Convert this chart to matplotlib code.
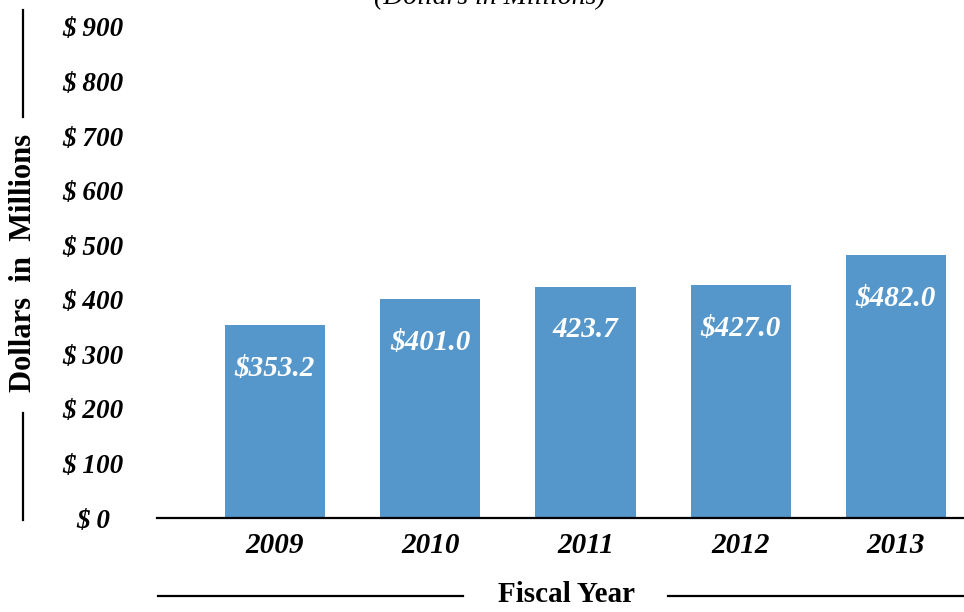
import matplotlib
matplotlib.use("Agg")
import matplotlib.pyplot as plt
from matplotlib.lines import Line2D

years = ["2009", "2010", "2011", "2012", "2013"]
values = [353.2, 401.0, 423.7, 427.0, 482.0]
value_labels = ["$353.2", "$401.0", "423.7", "$427.0", "$482.0"]
yticks = [0, 100, 200, 300, 400, 500, 600, 700, 800, 900]
ytick_labels = ["$ %d" % v for v in yticks]

W, H = 964, 612
fig = plt.figure(figsize=(W / 100, H / 100), dpi=100)
ax = fig.add_axes([157 / W, 1 - 518 / H, 1 - 157 / W, (518 - 27) / H])

SERIF = ["Liberation Serif", "DejaVu Serif"]
bar_color = "#5597CB"

x = list(range(len(years)))
ax.bar(x, values, width=0.645, color=bar_color, zorder=2)
ax.set_xlim(-0.76, 4.438)
ax.set_ylim(0, 900)

for xi, v, lab in zip(x, values, value_labels):
    ax.annotate(lab, (xi, v), xytext=(0, -31), textcoords="offset points",
                ha="center", va="center", color="white", fontsize=21,
                fontstyle="italic", fontweight="bold", family=SERIF)

for s in ["top", "right", "left"]:
    ax.spines[s].set_visible(False)
ax.spines["bottom"].set_linewidth(1.6)
ax.spines["bottom"].set_color("black")

ax.set_xticks(x)
ax.set_xticklabels(years, fontsize=21, fontstyle="italic", fontweight="bold", family=SERIF)
ax.tick_params(axis="x", length=0, pad=10)

ax.set_yticks(yticks)
ax.set_yticklabels(ytick_labels, fontsize=19.5, fontstyle="italic", fontweight="bold", family=SERIF)
ax.tick_params(axis="y", length=0, pad=46)
for t in ax.get_yticklabels():
    t.set_ha("center")

# Title (partially cut off at top, as in the original)
fig.text(490 / W, 1 - 4 / H, "(Dollars in Millions)", ha="center", va="baseline",
         fontsize=20, fontstyle="italic", family=SERIF)

# X axis title with lines
fig.text(566 / W, 1 - 595 / H, "Fiscal Year", ha="center", va="center",
         fontsize=21, fontweight="bold", family=SERIF)
fy = 1 - 596 / H
fig.add_artist(Line2D([158 / W, 463 / W], [fy, fy], color="black", lw=1.6))
fig.add_artist(Line2D([668 / W, 964 / W], [fy, fy], color="black", lw=1.6))

# Y axis title with lines
fig.text(24 / W, 1 - 263 / H, "Dollars  in  Millions", ha="center", va="center",
         rotation=90, fontsize=22, fontweight="bold", family=SERIF)
lx = 23 / W
fig.add_artist(Line2D([lx, lx], [1 - 10 / H, 1 - 117 / H], color="black", lw=1.6))
fig.add_artist(Line2D([lx, lx], [1 - 413 / H, 1 - 520 / H], color="black", lw=1.6))

fig.savefig("out.png", dpi=100)
